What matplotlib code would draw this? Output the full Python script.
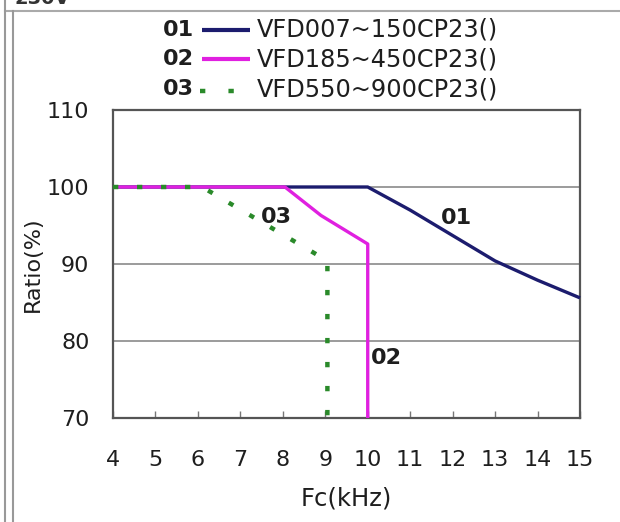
import matplotlib
matplotlib.use("Agg")
import matplotlib.pyplot as plt
from matplotlib.lines import Line2D

plt.rcParams['font.family'] = ['DejaVu Sans']

# ---- data ----
x01 = [4, 10, 11, 12, 13, 14, 15]
y01 = [100, 100, 97.0, 93.7, 90.4, 87.9, 85.6]
x02 = [4, 8.05, 8.9, 10.0, 10.0]
y02 = [100, 100, 96.3, 92.6, 70]
x03 = [4, 6.1, 8.9, 9.05, 9.05]
y03 = [100, 100, 90.9, 90.5, 70]

series_ids = ["01", "02", "03"]
series_names = ["VFD007~150CP23()", "VFD185~450CP23()", "VFD550~900CP23()"]
x_ticks = [4, 5, 6, 7, 8, 9, 10, 11, 12, 13, 14, 15]
y_ticks = [70, 80, 90, 100, 110]
grid_levels = [80, 90, 100]

# inline label positions (data coords)
label_pos = {"01": (12.1, 96.0), "02": (10.45, 77.8), "03": (7.85, 96.1)}

styles = {
    "01": dict(color="#1c1c6e", lw=2.4, ls="-"),
    "02": dict(color="#e020e0", lw=2.4, ls="-"),
    "03": dict(color="#2a8a2a", lw=3.2, ls=(0, (1.2, 4.2))),
}

TXT = "#1e1e1e"
FS = 16

W, H = 620, 522
fig = plt.figure(figsize=(W / 100, H / 100), dpi=100)
ax = fig.add_axes([113 / W, 1 - 418 / H, (580 - 113) / W, (418 - 110) / H])

for g in grid_levels:
    ax.axhline(g, color="#8a8a8a", lw=1.2, zorder=1)

for sid, xs, ys in zip(series_ids, [x01, x02, x03], [y01, y02, y03]):
    st = styles[sid]
    ax.plot(xs, ys, color=st["color"], lw=st["lw"], ls=st["ls"], zorder=3,
            solid_capstyle="butt", dash_capstyle="butt", clip_on=False)
    lx, ly = label_pos[sid]
    ax.text(lx, ly, sid, fontsize=FS, fontweight="bold", color=TXT,
            ha="center", va="center", zorder=4)

ax.set_xlim(4, 15)
ax.set_ylim(70, 110)
ax.set_xticks(x_ticks)
ax.set_xticklabels([str(v) for v in x_ticks])
ax.set_yticks(y_ticks)
ax.set_yticklabels([str(v) for v in y_ticks])
ax.tick_params(axis="x", direction="in", length=5, width=1, color="#777777",
               pad=23, labelsize=FS, labelcolor=TXT)
ax.tick_params(axis="y", length=0, pad=17, labelsize=FS, labelcolor=TXT)

for s in ax.spines.values():
    s.set_color("#555555")
    s.set_linewidth(1.6)

ax.set_xlabel("Fc(kHz)", fontsize=17.5, color=TXT)
ax.xaxis.set_label_coords(0.5, -0.222)
ax.set_ylabel("Ratio(%)", fontsize=FS, color=TXT)
ax.yaxis.set_label_coords(-0.150, 0.5)

# legend (manual, figure coords)
row_y = [30, 59, 89]
for sid, name, yy in zip(series_ids, series_names, row_y):
    st = styles[sid]
    fy = 1 - yy / H
    fig.text(194 / W, fy, sid, fontsize=FS, fontweight="bold", color=TXT,
             ha="right", va="center")
    if sid == "03":
        fy2 = 1 - (yy + 2) / H
        fig.add_artist(Line2D([200 / W, 236 / W], [fy2, fy2], transform=fig.transFigure,
                              color=st["color"], lw=3.2, ls=(0, (1.2, 5.2)),
                              dash_capstyle="butt"))
    else:
        fig.add_artist(Line2D([202 / W, 250 / W], [fy, fy], transform=fig.transFigure,
                              color=st["color"], lw=st["lw"] + 0.6, ls="-",
                              solid_capstyle="butt"))
    fig.text(257 / W, fy, name, fontsize=17.3, color=TXT, ha="left", va="center")

# outer frame lines
fig.add_artist(Line2D([5 / W, 1.0], [1 - 11 / H, 1 - 11 / H], transform=fig.transFigure,
                      color="#aaaaaa", lw=1.5))
fig.add_artist(Line2D([5 / W, 5 / W], [0, 1], transform=fig.transFigure,
                      color="#999999", lw=1.5))
fig.add_artist(Line2D([13 / W, 13 / W], [0, 1 - 11 / H], transform=fig.transFigure,
                      color="#999999", lw=1.5))
fig.text(14 / W, 1 + 1 / H, "230V", fontsize=14, fontweight="bold", color="#333333",
         ha="left", va="center")

fig.savefig("out.png", dpi=100)
